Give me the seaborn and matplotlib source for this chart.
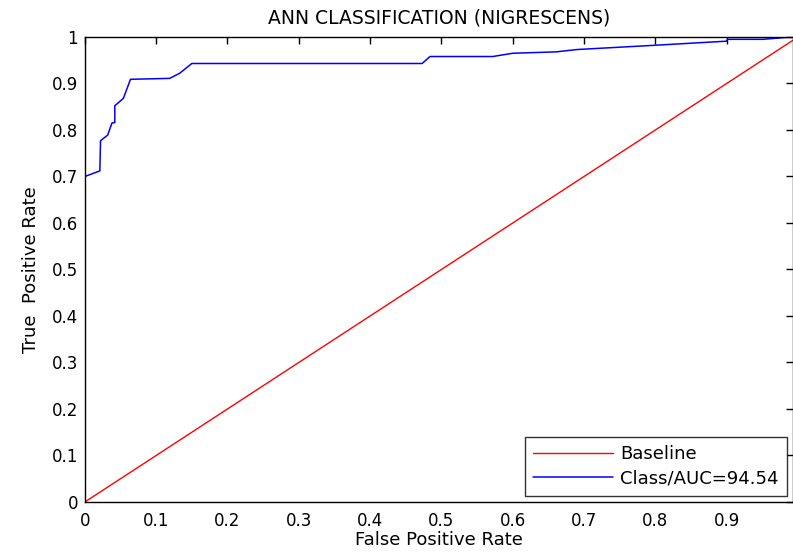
import numpy as np
import matplotlib
matplotlib.use("Agg")
import matplotlib.pyplot as plt
import seaborn as sns

# ROC curve points
fpr = [0.0, 0.0, 0.021, 0.022, 0.032, 0.038, 0.042, 0.042, 0.054, 0.064,
       0.119, 0.133, 0.150, 0.473, 0.484, 0.572, 0.600, 0.661, 0.690,
       0.797, 0.900, 0.901, 0.951, 0.991]
tpr = [0.0, 0.700, 0.712, 0.777, 0.789, 0.815, 0.816, 0.852, 0.868, 0.909,
       0.911, 0.922, 0.943, 0.943, 0.958, 0.958, 0.965, 0.968, 0.973,
       0.982, 0.991, 0.995, 0.995, 1.0]
base_x = [0.0, 1.0]
base_y = [0.0, 1.0]
tick_vals = [0.0, 0.1, 0.2, 0.3, 0.4, 0.5, 0.6, 0.7, 0.8, 0.9, 1.0]
tick_text = ["0", "0.1", "0.2", "0.3", "0.4", "0.5", "0.6", "0.7", "0.8", "0.9", "1"]

sns.set_style("white")
plt.rcParams["font.family"] = ["DejaVu Sans"]
plt.rcParams["text.color"] = "black"
plt.rcParams["axes.labelcolor"] = "black"

fig = plt.figure(figsize=(7.93, 5.52), dpi=100)
ax = fig.add_axes([0.107, 0.0906, 0.893, 0.8424])

sns.lineplot(x=base_x, y=base_y, ax=ax, color="red", linewidth=1,
             label="Baseline", sort=False, estimator=None)
sns.lineplot(x=fpr, y=tpr, ax=ax, color="blue", linewidth=1.1,
             label="Class/AUC=94.54", sort=False, estimator=None)

ax.set_xlim(0, 0.993)
ax.set_ylim(0, 1)
ax.set_xticks(tick_vals[:-1], tick_text[:-1])
ax.set_yticks(tick_vals, tick_text)
ax.tick_params(direction="in", top=True, right=True, length=5, width=1,
               labelsize=12, colors="black", pad=5)
ax.tick_params(axis="x", pad=7)
for s in ax.spines.values():
    s.set_color("black")
    s.set_linewidth(1)

ax.set_xlabel("False Positive Rate", fontsize=13, labelpad=1)
ax.set_ylabel("True  Positive Rate", fontsize=13, labelpad=8)
ax.set_title("ANN CLASSIFICATION (NIGRESCENS)", fontsize=13.5, pad=10)

leg = ax.legend(loc="lower right", fontsize=13, frameon=True, fancybox=False,
                edgecolor="black", borderaxespad=0.35, handlelength=4.4,
                handletextpad=0.4, labelspacing=0.35, borderpad=0.45)
leg.get_frame().set_linewidth(1)

fig.savefig("out.png", dpi=100)
